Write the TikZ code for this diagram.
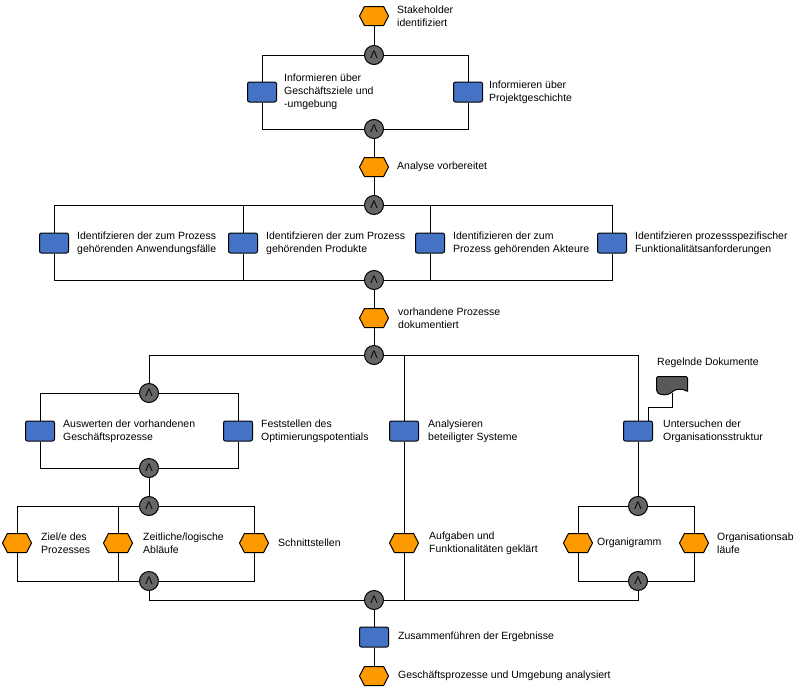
\documentclass[tikz,border=0pt]{standalone}
\usepackage{fontspec}
\setmainfont{Liberation Sans}
\usepackage{tikz}
\usetikzlibrary{shapes.symbols,backgrounds,positioning}

\definecolor{evorange}{HTML}{FF9900}
\definecolor{fnblue}{HTML}{4472C4}
\definecolor{andgray}{HTML}{666666}
\definecolor{docgray}{HTML}{595959}

\tikzset{
  eventhex/.style = {signal, signal to = {west and east}, signal pointer angle = 125, draw, fill = evorange, line width = 1pt, minimum width = 29pt, minimum height = 19pt, inner sep = 0pt},
  funcbox/.style = {shape = rectangle, rounded corners = 2pt, draw, fill = fnblue, line width = 1pt, minimum width = 29pt, minimum height = 20pt, inner sep = 0pt},
  andgate/.style = {circle, draw, fill = andgray, line width = 1pt, minimum size = 19pt, inner sep = 0pt, font = \fontsize{11}{11}\selectfont},
  docshape/.style = {tape, tape bend top = none, tape bend height = 5pt, draw, fill = docgray, line width = 1pt, minimum width = 31pt, minimum height = 18pt, inner sep = 0pt, rounded corners = 2pt},
  lbl/.style = {anchor = west, align = left, inner sep = 0pt, font = \fontsize{10.5}{13}\selectfont},
  flow/.style = {line width = 1.6pt, line join = round}
}

\begin{document}
\begin{tikzpicture}[x = 1pt, y = -1pt]
\useasboundingbox (0,0) rectangle (800,688);

% top part
\node[eventhex] (e1) at (374,16) {};
\node[lbl] (e1t) at (397,16) {Stakeholder\\identifiziert};
\node[andgate] (a1) at (374,55) {Λ};
\node[funcbox] (f1) at (262,92) {};
\node[lbl] (f1t) at (284,92) {Informieren über\\Geschäftsziele und\\-umgebung};
\node[funcbox] (f2) at (468,92) {};
\node[lbl] (f2t) at (489,92) {Informieren über\\Projektgeschichte};
\node[andgate] (a2) at (374,129) {Λ};
\node[eventhex] (e2) at (374,167) {};
\node[lbl] (e2t) at (397,167) {Analyse vorbereitet};

% identification
\node[andgate] (a3) at (374,205) {Λ};
\node[funcbox] (f3) at (54,243) {};
\node[lbl] (f3t) at (77,243) {Identifzieren der zum Prozess\\gehörenden Anwendungsfälle};
\node[funcbox] (f4) at (243,243) {};
\node[lbl] (f4t) at (266,243) {Identifzieren der zum Prozess\\gehörenden Produkte};
\node[funcbox] (f5) at (430,243) {};
\node[lbl] (f5t) at (453,243) {Identifizieren der zum\\Prozess gehörenden Akteure};
\node[funcbox] (f6) at (612,243) {};
\node[lbl] (f6t) at (635,243) {Identifzieren prozessspezifischer\\Funktionalitätsanforderungen};
\node[andgate] (a4) at (374,280) {Λ};
\node[eventhex] (e3) at (374,318) {};
\node[lbl] (e3t) at (398,318) {vorhandene Prozesse\\dokumentiert};
\node[andgate] (a5) at (374,355) {Λ};

% left branch
\node[andgate] (a6) at (149,393) {Λ};
\node[funcbox] (f7) at (40,431) {};
\node[lbl] (f7t) at (63,431) {Auswerten der vorhandenen\\Geschäftsprozesse};
\node[funcbox] (f8) at (238,431) {};
\node[lbl] (f8t) at (261,431) {Feststellen des\\Optimierungspotentials};
\node[andgate] (a7) at (149,468) {Λ};
\node[andgate] (a8) at (149,506) {Λ};
\node[eventhex] (v1) at (17,543) {};
\node[lbl] (v1t) at (41,543) {Ziel/e des\\Prozesses};
\node[eventhex] (v2) at (118,543) {};
\node[lbl] (v2t) at (143,543) {Zeitliche/logische\\Abläufe};
\node[eventhex] (v3) at (254,543) {};
\node[lbl] (v3t) at (278,543) {Schnittstellen};
\node[andgate] (a9) at (149,581) {Λ};

% middle branch
\node[funcbox] (f9) at (404,431) {};
\node[lbl] (f9t) at (428,431) {Analysieren\\beteiligter Systeme};
\node[eventhex] (v4) at (404,543) {};
\node[lbl] (v4t) at (429,543) {Aufgaben und\\Funktionalitäten geklärt};

% right branch
\node[docshape] (doc) at (672,383) {};
\node[lbl] (doct) at (657,363) {Regelnde Dokumente};
\node[funcbox] (f10) at (638,431) {};
\node[lbl] (f10t) at (663,431) {Untersuchen der\\Organisationsstruktur};
\node[andgate] (a10) at (638,506) {Λ};
\node[eventhex] (v5) at (578,543) {};
\node[lbl] (v5t) at (597,543) {Organigramm};
\node[eventhex] (v6) at (694,543) {};
\node[lbl] (v6t) at (717,543) {Organisationsab\\läufe};
\node[andgate] (a11) at (638,581) {Λ};

% end
\node[andgate] (a12) at (374,600) {Λ};
\node[funcbox] (f11) at (374,637) {};
\node[lbl] (f11t) at (398,637) {Zusammenführen der Ergebnisse};
\node[eventhex] (e4) at (374,676) {};
\node[lbl] (e4t) at (398,676) {Geschäftsprozesse und Umgebung analysiert};

\begin{scope}[on background layer, flow]
\draw (e1) -- (a1);
\draw (a1) -| (f1) |- (a2);
\draw (a1) -| (f2) |- (a2);
\draw (a2) -- (e2) -- (a3);
\draw (a3) -| (f3) |- (a4);
\draw (a3) -| (f6) |- (a4);
\draw (f4 |- a3) -- (f4) -- (f4 |- a4);
\draw (f5 |- a3) -- (f5) -- (f5 |- a4);
\draw (a4) -- (e3) -- (a5);
\draw (a5) -| (a6);
\draw (a5) -| (f10) -- (a10);
\draw (f9 |- a5) -- (f9) -- (v4) -- (v4 |- a12);
\draw (a6) -| (f7) |- (a7);
\draw (a6) -| (f8) |- (a7);
\draw (a7) -- (a8);
\draw (a8) -| (v1) |- (a9);
\draw (a8) -| (v3) |- (a9);
\draw (v2 |- a8) -- (v2) -- (v2 |- a9);
\draw (a9) |- (a12);
\draw (a10) -| (v5) |- (a11);
\draw (a10) -| (v6) |- (a11);
\draw (a11) |- (a12);
\draw (a12) -- (f11) -- (e4);
\draw (doc) |- ([xshift = 10pt, yshift = 13pt]f10.north) -- ([xshift = 10pt]f10.north);
\end{scope}
\end{tikzpicture}
\end{document}
